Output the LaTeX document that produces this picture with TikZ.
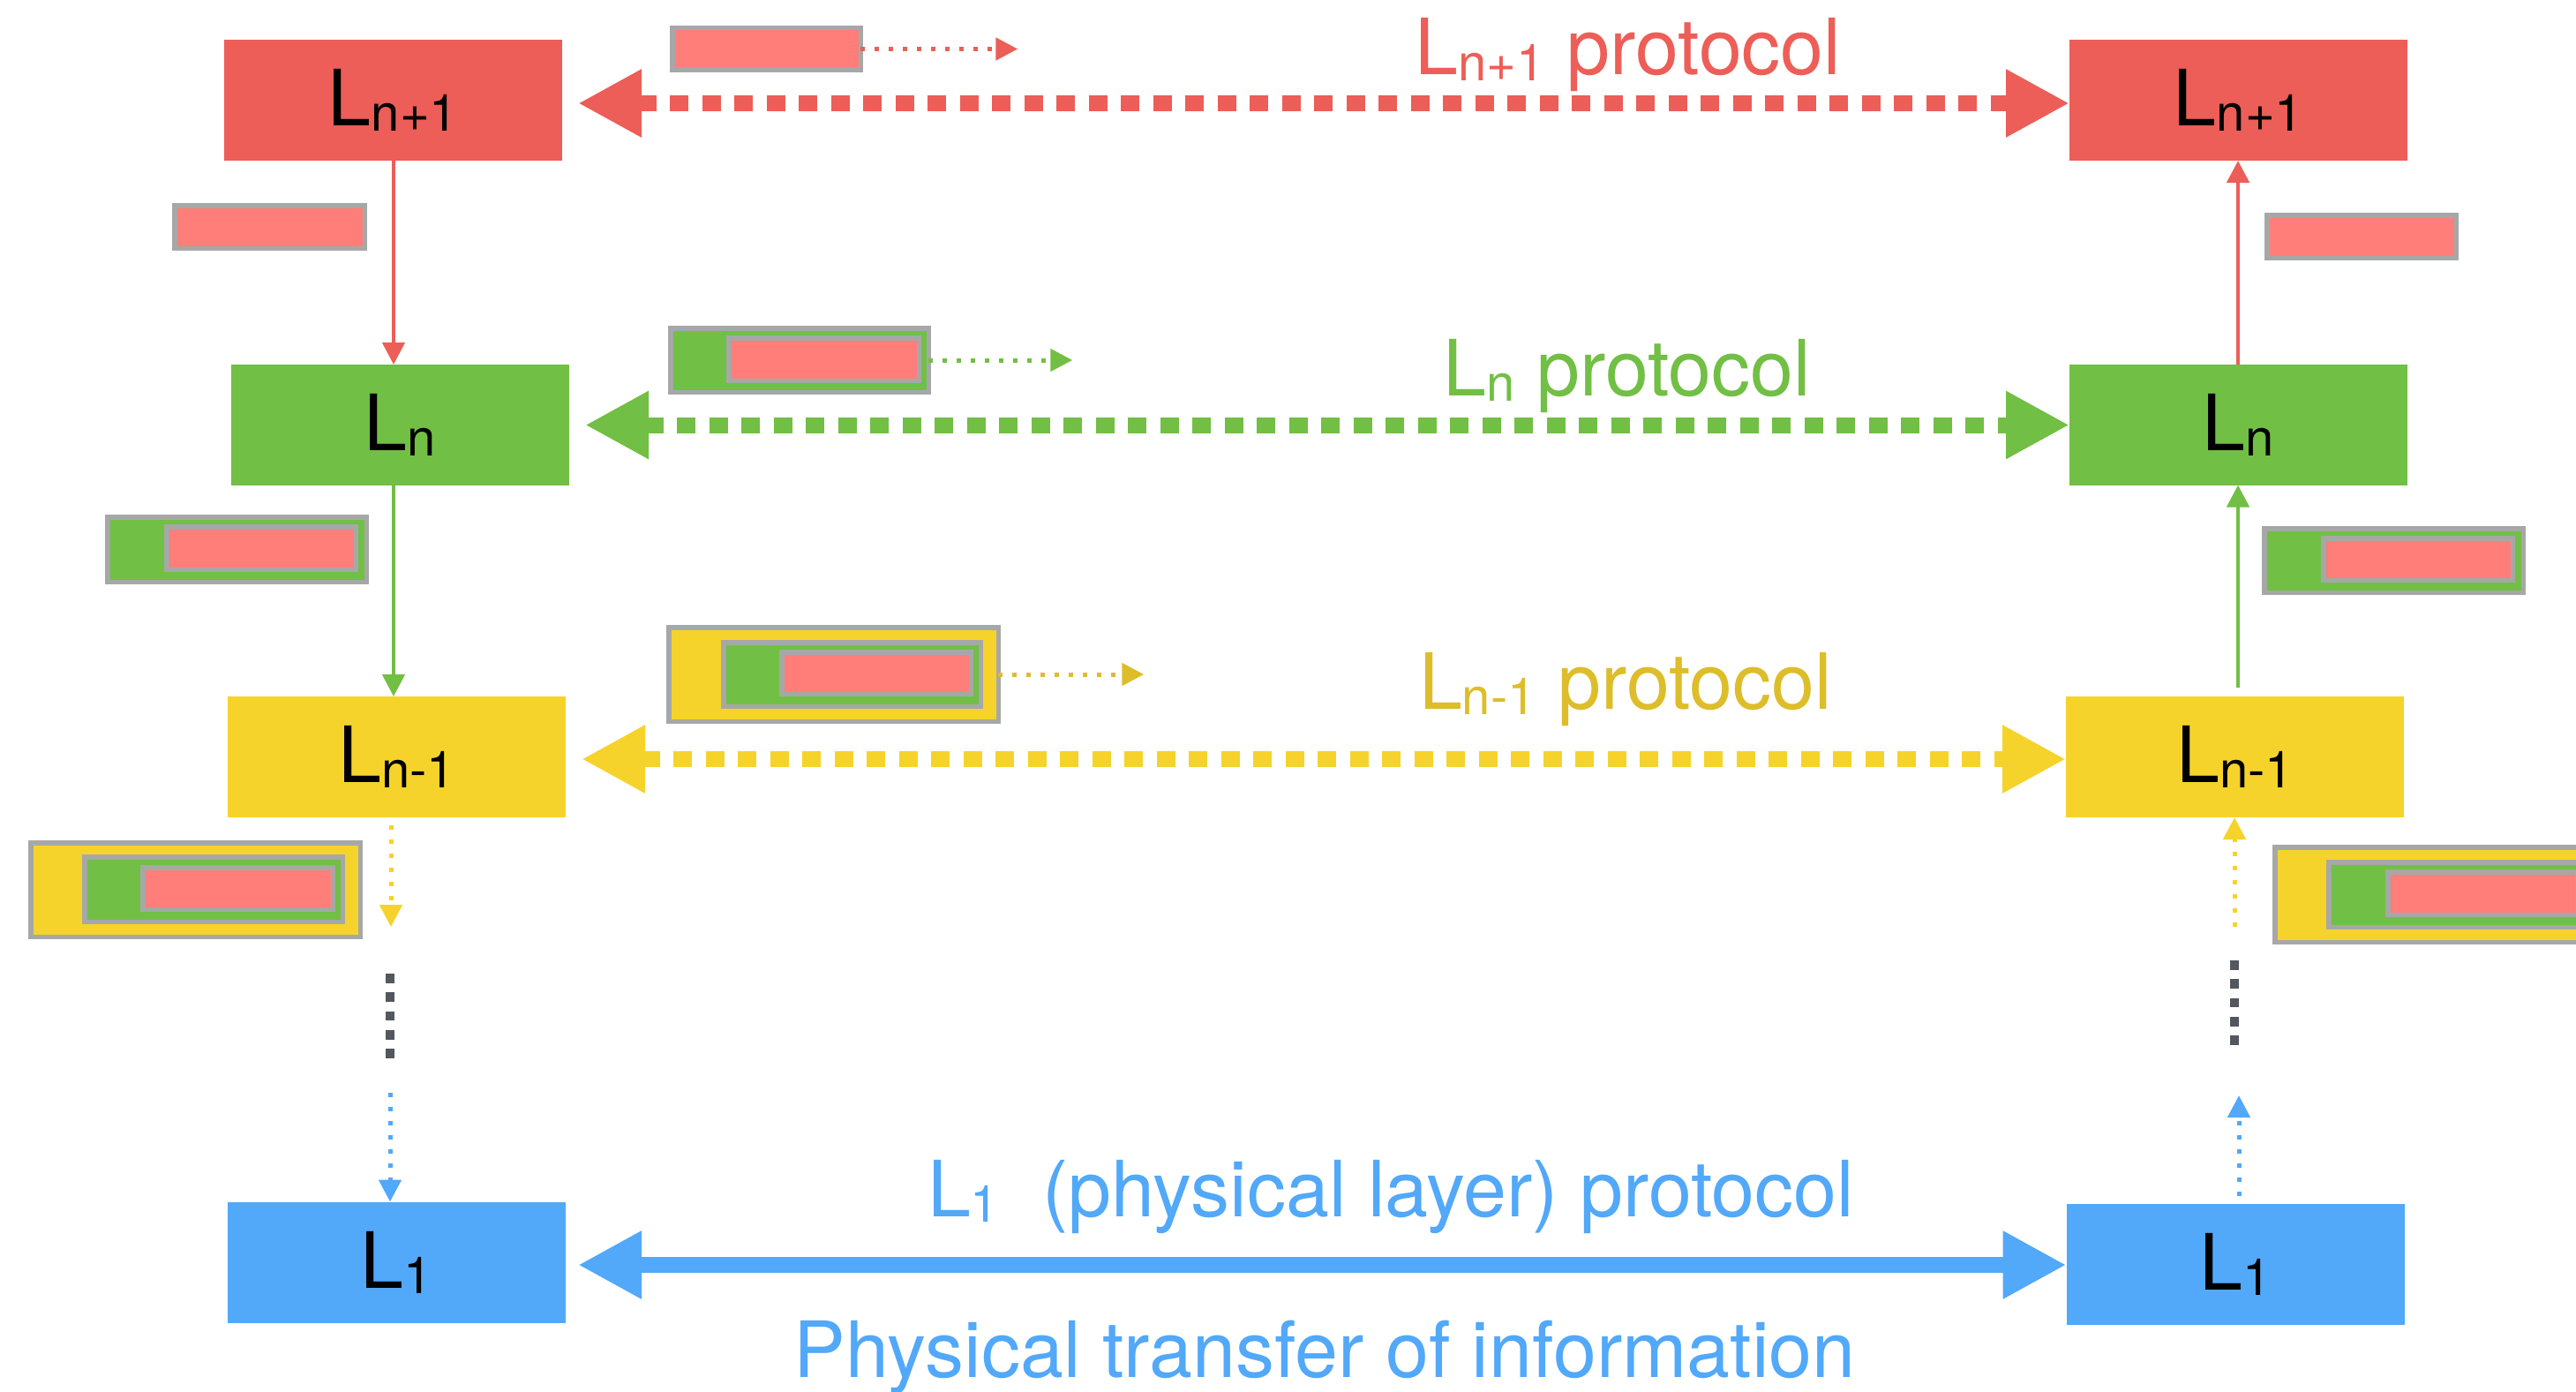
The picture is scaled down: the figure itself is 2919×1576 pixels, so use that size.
\documentclass[tikz,border=0pt]{standalone}
\usepackage{fontspec}
\setmainfont{TeX Gyre Heros}
\usetikzlibrary{arrows.meta}

\definecolor{cred}{HTML}{EC5E57}
\definecolor{csalmon}{HTML}{FF7E79}
\definecolor{cgreen}{HTML}{71BF44}
\definecolor{cyellow}{HTML}{F6D32B}
\definecolor{cmustard}{HTML}{DDBD2A}
\definecolor{cblue}{HTML}{52A8F9}
\definecolor{cgray}{HTML}{A6A8A7}
\definecolor{cdark}{HTML}{53575E}

% layer name with a lowered, smaller index
\newcommand\Lsub[1]{L\raisebox{-6pt}{\fontsize{58}{60}\selectfont #1}}

% one data unit: name, x1, y1, x2, y2 (outer edges), fill colour
\newcommand\pdu[6]{%
  \node[pkt, fill=#6, minimum width={#4pt-#2pt-5.5pt}, minimum height={#5pt-#3pt-5.5pt}]
    (#1) at ({(#2+#4)/2},{(#3+#5)/2}) {};}

\begin{document}
\begin{tikzpicture}[x=1pt, y=-1pt,
  layer/.style={rectangle, inner sep=0pt, outer sep=0pt, minimum width=383pt,
    minimum height=137pt, font=\fontsize{88}{100}\selectfont, text=black},
  pkt/.style={rectangle, draw=cgray, line width=5.5pt, inner sep=0pt, outer sep=0pt},
  wire/.style={line width=4.5pt, -{Triangle[length=25pt,width=25pt]}},
  dotwire/.style={line width=5pt, dash pattern=on 5pt off 11pt,
    -{Triangle[length=25pt,width=25pt]}},
  proto/.style={line width=18pt, dash pattern=on 21pt off 15.5pt,
    {Triangle[length=72pt,width=72pt]}-{Triangle[length=72pt,width=72pt]},
    shorten <=18pt},
  solidproto/.style={line width=18pt,
    {Triangle[length=72pt,width=72pt]}-{Triangle[length=72pt,width=72pt]},
    shorten <=14pt},
  ellipsis/.style={line width=10pt, dash pattern=on 10.7pt off 10.6pt, draw=cdark},
  lbl/.style={anchor=base, inner sep=0pt, font=\fontsize{88}{100}\selectfont}]

\useasboundingbox (0,0) rectangle (2919,1576);
\clip (0,0) rectangle (2919,1576);

% ---- layer boxes, sender (left) and receiver (right)
\node[layer, fill=cred]    (LA) at (445.5,113.5) {\Lsub{n+1}};
\node[layer, fill=cgreen]  (LB) at (453.5,481.5) {\Lsub{n}};
\node[layer, fill=cyellow] (LC) at (449.5,857.5) {\Lsub{n-1}};
\node[layer, fill=cblue]   (LD) at (449.5,1430)  {\Lsub{1}};

\node[layer, fill=cred]    (RA) at (2536.5,113.5) {\Lsub{n+1}};
\node[layer, fill=cgreen]  (RB) at (2536.5,481)   {\Lsub{n}};
\node[layer, fill=cyellow] (RC) at (2532.5,857.5) {\Lsub{n-1}};
\node[layer, fill=cblue]   (RD) at (2533,1432)    {\Lsub{1}};

% ---- peer protocols
\draw[proto, color=cred]    ([yshift=-3.5pt]LA.east) -- ([yshift=-3.5pt]RA.west);
\draw[proto, color=cgreen]  (LB.east) -- (LB.east -| RB.west);
\draw[proto, color=cyellow] ([yshift=-2.5pt]LC.east) -- ([yshift=-2.5pt]LC.east -| RC.west);
\draw[solidproto, color=cblue] ([yshift=-3pt]LD.east) -- ([yshift=-3pt]LD.east -| RD.west);

\node[lbl, text=cred]     (tA) at (1845,85)   {\Lsub{n+1} protocol};
\node[lbl, text=cgreen]   (tB) at (1844,448)  {\Lsub{n} protocol};
\node[lbl, text=cmustard] (tC) at (1842,803)  {\Lsub{n-1} protocol};
\node[lbl, text=cblue]    (tD) at (1576,1378) {\Lsub{1}~ (physical layer) protocol};
\node[lbl, text=cblue]    (tE) at (1501,1560) {Physical transfer of information};

% ---- data units travelling along each protocol
\pdu{pA}{759}{29}{978}{82}{csalmon}
\pdu{pB}{757}{369}{1055}{447}{cgreen}
\pdu{pBi}{823}{380}{1044}{434}{csalmon}
\pdu{pC}{755}{708}{1134}{820}{cyellow}
\pdu{pCg}{817}{725}{1114}{803}{cgreen}
\pdu{pCr}{883}{736}{1103}{789}{csalmon}

\coordinate (eA) at ([xshift=178pt]pA.east);
\coordinate (eB) at ([xshift=163pt]pB.east);
\coordinate (eC) at ([xshift=165pt]pC.east);
\draw[dotwire, color=cred]     (pA.east) -- (eA);
\draw[dotwire, color=cgreen]   (pB.east) -- (eB);
\draw[dotwire, color=cmustard] (pC.east) -- (eC);

% ---- sender side: going down the stack
\pdu{sA}{195}{230}{416}{284}{csalmon}
\pdu{sB}{119}{583}{418}{662}{cgreen}
\pdu{sBi}{186}{594}{406}{648}{csalmon}
\pdu{sC}{32}{952}{411}{1064}{cyellow}
\pdu{sCg}{93}{968}{391}{1047}{cgreen}
\pdu{sCr}{159}{980}{380}{1033}{csalmon}

\coordinate (lx) at (446,0);
\draw[wire, color=cred]   (LA.south -| lx) -- (LB.north -| lx);
\draw[wire, color=cgreen] (LB.south -| lx) -- (LC.north -| lx);
\coordinate (lyA) at (443,935);
\coordinate (lyB) at (443,1050);
\draw[dotwire, color=cyellow] (lyA) -- (lyB);
\coordinate (ldA) at (442,1103);
\coordinate (ldB) at (442,1200);
\draw[ellipsis] (ldA) -- (ldB);
\coordinate (lbA) at (442,1238);
\draw[dotwire, color=cblue] (lbA) -- (lbA |- LD.north);

% ---- receiver side: going up the stack
\pdu{rA}{2566}{241}{2786}{295}{csalmon}
\pdu{rB}{2563}{596}{2862}{674}{cgreen}
\pdu{rBi}{2630}{607}{2850}{660}{csalmon}
\pdu{rC}{2575}{957}{2954}{1070}{cyellow}
\pdu{rCg}{2636}{974}{2934}{1053}{cgreen}
\pdu{rCr}{2703}{985}{2923}{1039}{csalmon}

\coordinate (rx) at (2536,0);
\draw[wire, color=cred]   (RB.north -| rx) -- (RA.south -| rx);
\draw[wire, color=cgreen, shorten <=10pt] (RC.north -| rx) -- (RB.south -| rx);
\coordinate (ryA) at (2532,1050);
\draw[dotwire, color=cyellow] (ryA) -- (ryA |- RC.south);
\coordinate (rdA) at (2532,1088);
\coordinate (rdB) at (2532,1185);
\draw[ellipsis] (rdA) -- (rdB);
\coordinate (rbA) at (2537,1355);
\coordinate (rbB) at (2537,1241);
\draw[dotwire, color=cblue] (rbA) -- (rbB);

\end{tikzpicture}
\end{document}
